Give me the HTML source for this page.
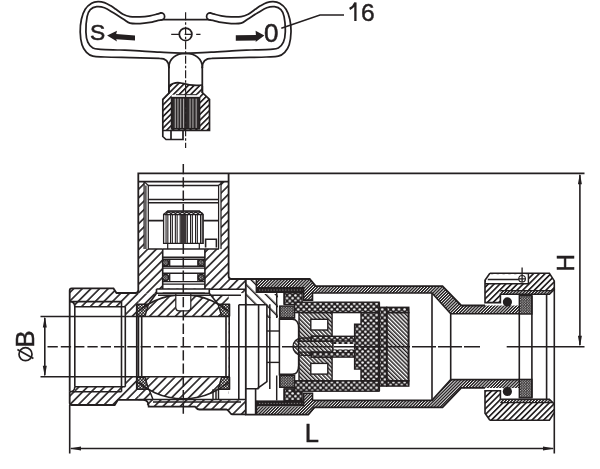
<!DOCTYPE html>
<html><head><meta charset="utf-8"><style>html,body{margin:0;padding:0;background:#fff;}svg{display:block;will-change:transform;}</style></head>
<body><svg width="600" height="469" viewBox="0 0 600 469">
<rect width="600" height="469" fill="#fff"/>

<defs>
<pattern id="hA" patternUnits="userSpaceOnUse" width="6.1" height="6" patternTransform="rotate(45)">
 <rect x="-0.8" y="0" width="1.6" height="6" fill="#231f20"/><rect x="5.3" y="0" width="1.6" height="6" fill="#231f20"/></pattern>
<pattern id="hS" patternUnits="userSpaceOnUse" width="4.1" height="6" patternTransform="rotate(45)">
 <rect x="0" y="0" width="1.7" height="6" fill="#231f20"/></pattern>
<pattern id="hF" patternUnits="userSpaceOnUse" width="2.2" height="6" patternTransform="rotate(45)">
 <rect x="0" y="0" width="1.4" height="6" fill="#231f20"/></pattern>
<pattern id="hB" patternUnits="userSpaceOnUse" width="2.9" height="6" patternTransform="rotate(-45)">
 <rect x="0" y="0" width="1.5" height="6" fill="#231f20"/></pattern>
<pattern id="hW" patternUnits="userSpaceOnUse" width="7" height="6" patternTransform="rotate(-45)">
 <rect x="0" y="0" width="1.5" height="6" fill="#231f20"/></pattern>
<pattern id="dC" patternUnits="userSpaceOnUse" width="5.6" height="5.6">
 <rect width="5.6" height="5.6" fill="#231f20"/>
 <circle cx="1.4" cy="1.4" r="1.25" fill="#fff"/><circle cx="4.2" cy="4.2" r="1.25" fill="#fff"/></pattern>
<pattern id="dF" patternUnits="userSpaceOnUse" width="2.6" height="2.6">
 <rect width="2.6" height="2.6" fill="#231f20"/>
 <circle cx="0.65" cy="0.65" r="0.55" fill="#fff"/><circle cx="1.95" cy="1.95" r="0.55" fill="#fff"/></pattern>
<pattern id="dS" patternUnits="userSpaceOnUse" width="3" height="3">
 <rect width="3" height="3" fill="#231f20"/>
 <circle cx="0.75" cy="0.75" r="0.72" fill="#fff"/><circle cx="2.25" cy="2.25" r="0.72" fill="#fff"/></pattern>
</defs>

<g fill="none" stroke="#231f20" stroke-width="1.75" stroke-linecap="round">
<path d="M161.00 12.80 C160.28 13.03 158.53 13.70 156.70 14.20 C154.87 14.70 152.78 15.37 150.00 15.80 C147.22 16.23 143.33 16.67 140.00 16.80 C136.67 16.93 132.83 17.03 130.00 16.60 C127.17 16.17 125.33 15.42 123.00 14.20 C120.67 12.98 118.03 10.70 116.00 9.30 C113.97 7.90 112.73 6.92 110.80 5.80 C108.87 4.68 106.53 3.30 104.40 2.60 C102.27 1.90 100.13 1.48 98.00 1.60 C95.87 1.72 93.73 2.03 91.60 3.30 C89.47 4.57 86.90 6.55 85.20 9.20 C83.50 11.85 82.23 15.40 81.40 19.20 C80.57 23.00 80.10 27.73 80.20 32.00 C80.30 36.27 80.95 41.40 82.00 44.80 C83.05 48.20 84.68 50.50 86.50 52.40 C88.32 54.30 89.82 55.43 92.90 56.20 C95.98 56.97 98.82 56.77 105.00 57.00 C111.18 57.23 122.50 57.42 130.00 57.60 C137.50 57.78 145.08 57.97 150.00 58.10 C154.92 58.23 157.92 58.35 159.50 58.40 Q168.9 58.4 168.9 67.4"/>
<path d="M210.20 12.80 C210.92 13.03 212.67 13.70 214.50 14.20 C216.33 14.70 218.42 15.37 221.20 15.80 C223.98 16.23 227.87 16.67 231.20 16.80 C234.53 16.93 238.37 17.03 241.20 16.60 C244.03 16.17 245.87 15.42 248.20 14.20 C250.53 12.98 253.17 10.70 255.20 9.30 C257.23 7.90 258.47 6.92 260.40 5.80 C262.33 4.68 264.67 3.30 266.80 2.60 C268.93 1.90 271.07 1.48 273.20 1.60 C275.33 1.72 277.47 2.03 279.60 3.30 C281.73 4.57 284.30 6.55 286.00 9.20 C287.70 11.85 288.97 15.40 289.80 19.20 C290.63 23.00 291.10 27.73 291.00 32.00 C290.90 36.27 290.25 41.40 289.20 44.80 C288.15 48.20 286.52 50.50 284.70 52.40 C282.88 54.30 281.38 55.43 278.30 56.20 C275.22 56.97 272.38 56.77 266.20 57.00 C260.02 57.23 248.70 57.42 241.20 57.60 C233.70 57.78 226.12 57.97 221.20 58.10 C216.28 58.23 213.28 58.35 211.70 58.40 Q202.3 58.4 202.3 67.4"/>
<path d="M161.00 20.00 C160.28 20.13 158.53 20.40 156.70 20.80 C154.87 21.20 152.78 21.93 150.00 22.40 C147.22 22.87 143.33 23.47 140.00 23.60 C136.67 23.73 132.73 23.93 130.00 23.20 C127.27 22.47 126.37 20.93 123.60 19.20 C120.83 17.47 116.60 14.70 113.40 12.80 C110.20 10.90 107.18 8.82 104.40 7.80 C101.62 6.78 99.05 6.40 96.70 6.70 C94.35 7.00 91.90 7.95 90.30 9.60 C88.70 11.25 87.83 12.87 87.10 16.60 C86.37 20.33 85.78 27.73 85.90 32.00 C86.02 36.27 86.63 39.53 87.80 42.20 C88.97 44.87 90.77 46.82 92.90 48.00 C95.03 49.18 96.08 48.97 100.60 49.30 C105.12 49.63 114.27 49.78 120.00 50.00 C125.73 50.22 128.33 50.23 135.00 50.60 C141.67 50.97 151.57 51.75 160.00 52.20 C168.43 52.65 181.33 53.12 185.60 53.30"/>
<path d="M210.20 20.00 C210.92 20.13 212.67 20.40 214.50 20.80 C216.33 21.20 218.42 21.93 221.20 22.40 C223.98 22.87 227.87 23.47 231.20 23.60 C234.53 23.73 238.47 23.93 241.20 23.20 C243.93 22.47 244.83 20.93 247.60 19.20 C250.37 17.47 254.60 14.70 257.80 12.80 C261.00 10.90 264.02 8.82 266.80 7.80 C269.58 6.78 272.15 6.40 274.50 6.70 C276.85 7.00 279.30 7.95 280.90 9.60 C282.50 11.25 283.37 12.87 284.10 16.60 C284.83 20.33 285.42 27.73 285.30 32.00 C285.18 36.27 284.57 39.53 283.40 42.20 C282.23 44.87 280.43 46.82 278.30 48.00 C276.17 49.18 275.12 48.97 270.60 49.30 C266.08 49.63 256.93 49.78 251.20 50.00 C245.47 50.22 242.87 50.23 236.20 50.60 C229.53 50.97 219.63 51.75 211.20 52.20 C202.77 52.65 189.87 53.12 185.60 53.30"/>
<path d="M161 12.8 A3.6 3.6 0 0 1 161 20"/>
<path d="M210.2 12.8 A3.6 3.6 0 0 0 210.2 20"/>
<path d="M162.5 19.6 H208.7"/>
<path d="M168.9 67.4 C168.9 58.5 176 53.4 185.6 53.4 C195.2 53.4 202.3 58.5 202.3 67.4"/>
<path d="M168.9 67.4 V93 M202.3 67.4 V92.5"/>
<circle cx="185.6" cy="34.3" r="6.3"/>
</g>
<path d="M107.1 35.4 L117 30.8 L116.2 33.9 L135 35.4 L135 40.6 L116.2 39.3 L117 41.6 Z" fill="#231f20"/>
<path d="M264.4 35.6 L255.6 30.8 L255.9 35.0 L235.8 35.2 L235.8 40.8 L255.9 40.4 L255.6 41.9 Z" fill="#231f20"/>
<path d="M281.3 28.3 L320 15 H344" fill="none" stroke="#231f20" stroke-width="1.5"/>
<text x="89.9" y="40.2" font-family="Liberation Sans" font-size="22.8" stroke="#231f20" stroke-width="0.55" fill="#231f20">S</text>
<text x="263.9" y="41.9" font-family="Liberation Sans" font-size="26" stroke="#231f20" stroke-width="0.55" fill="#231f20">0</text>
<text x="360.9" y="20.7" font-family="Liberation Sans" font-size="24.6" stroke="#231f20" stroke-width="0.45" fill="#231f20">6</text>
<path d="M349.6 8.9 Q353.6 7.2 355.4 2.6 V21" fill="none" stroke="#231f20" stroke-width="2.3"/>
<path d="M168.9 86 C173 82.6 178 82.2 182 83.2 C187 84.6 192 86.2 202.3 85 V92.5 L209.5 99.4 V130.5 H162.8 V99.4 L168.9 93 Z M171.6 97.7 V128.8 H199.5 V97.7 Z" fill="url(#hS)" fill-rule="evenodd"/>
<rect x="171.6" y="94.7" width="28" height="34.1" fill="#fff"/>
<rect x="171.6" y="97.7" width="27.9" height="31.1" fill="#2e2a2b"/>
<rect x="174.8" y="98" width="0.9" height="30.5" fill="#c4c0c0"/>
<rect x="177.5" y="98" width="0.9" height="30.5" fill="#c4c0c0"/>
<rect x="180.3" y="98" width="0.9" height="30.5" fill="#c4c0c0"/>
<rect x="183.2" y="98" width="0.9" height="30.5" fill="#c4c0c0"/>
<rect x="189.6" y="98" width="0.9" height="30.5" fill="#c4c0c0"/>
<rect x="192.5" y="98" width="0.9" height="30.5" fill="#c4c0c0"/>
<rect x="195.7" y="98" width="0.9" height="30.5" fill="#c4c0c0"/>
<path d="M176 94.7 H197 M171.6 97.7 H199.5" stroke="#231f20" stroke-width="1" fill="none"/>
<g fill="none" stroke="#231f20" stroke-width="1.7">
<path d="M168.9 86 V93 L162.8 99.4 V130.5 M162.8 130.5 V136.5 L166 139.5 H183 V130.5 M171 130.5 V139.5 M202.3 86 V92.5 L209.5 99.4 V130.5 H162.8"/>
<path d="M168.9 86 C173 82.6 178 82.2 182 83.2 C187 84.6 192 86.2 202.3 85"/>
<rect x="171.6" y="97.7" width="27.9" height="31.1"/>
</g>
<g fill="none" stroke="#231f20" stroke-width="1.2">
<path d="M185.6 12.3 V148" stroke-dasharray="8 2 2.5 2"/>
<path d="M171.2 34.3 H179 M184.6 34.3 H192 M196.2 34.3 H200.5"/>
</g>
<polygon points="69.70,288.40 113.50,288.40 116.50,293.00 136.50,293.00 138.30,290.00 138.30,173.30 228.60,173.30 228.60,275.90 231.70,279.00 245.80,279.00 245.80,414.40 232.50,414.40 229.00,411.50 226.50,409.50 199.50,409.50 196.00,407.50 195.00,406.70 148.70,406.70 143.30,399.80 118.00,399.80 114.70,405.00 69.70,405.00" fill="url(#hA)" />
<rect x="144.10" y="181.60" width="76.90" height="67.40" fill="#fff" />
<rect x="138.30" y="173.30" width="90.30" height="8.30" fill="#fff" />
<rect x="162.70" y="249.00" width="42.20" height="39.60" fill="#fff" />
<rect x="156.50" y="289.00" width="52.80" height="4.20" fill="#fff" />
<rect x="74.80" y="306.70" width="50.50" height="80.00" fill="#fff" />
<rect x="69.70" y="301.60" width="5.10" height="90.20" fill="#fff" />
<rect x="125.30" y="316.50" width="13.00" height="60.30" fill="#fff" />
<path d="M138.3 293.1 H228.6 V399.5 H138.3 Z" fill="#fff"/>
<rect x="228.60" y="293.10" width="17.20" height="107.20" fill="#fff" />
<clipPath id="ballclip"><rect x="138.3" y="290" width="90.3" height="120"/></clipPath>
<clipPath id="bc"><rect x="138.5" y="295.2" width="89.6" height="106"/></clipPath>
<g clip-path="url(#bc)"><path d="M132.9 316.1 A69.8 69.8 0 0 1 233.7 316.1 Z" fill="url(#hA)"/>
<path d="M132.9 377.3 A69.8 69.8 0 0 0 233.7 377.3 Z" fill="url(#hA)"/></g>
<polygon points="138.30,293.20 156.50,293.20 148.50,304.20 138.30,304.20" fill="url(#hA)" />
<polygon points="138.30,389.20 149.00,389.20 153.00,399.50 138.30,399.50" fill="url(#hA)" />
<polygon points="209.30,293.20 228.60,293.20 228.60,304.20 218.10,304.20" fill="url(#hA)" />
<rect x="209.30" y="289.30" width="31.70" height="5.90" fill="#fff" />
<polygon points="137.00,304.20 148.50,304.20 145.00,316.10 137.00,316.10" fill="url(#dS)" stroke="#231f20" stroke-width="1.4" stroke-linejoin="round"/>
<polygon points="137.00,389.20 148.50,389.20 145.00,377.30 137.00,377.30" fill="url(#dS)" stroke="#231f20" stroke-width="1.4" stroke-linejoin="round"/>
<polygon points="229.60,304.20 218.10,304.20 221.60,316.10 229.60,316.10" fill="url(#dS)" stroke="#231f20" stroke-width="1.4" stroke-linejoin="round"/>
<polygon points="229.60,389.20 218.10,389.20 221.60,377.30 229.60,377.30" fill="url(#dS)" stroke="#231f20" stroke-width="1.4" stroke-linejoin="round"/>
<polygon points="245.80,279.00 256.40,279.00 256.40,294.00 278.00,294.00 278.00,318.00 266.90,318.00 266.90,304.70 245.80,304.70" fill="url(#hW)" />
<polygon points="256.40,279.00 309.70,279.00 315.70,286.20 442.50,286.20 461.20,305.50 519.30,305.50 519.30,313.80 450.70,313.80 432.00,293.00 312.50,293.00 312.50,300.10 303.60,300.10 303.60,287.00 256.40,287.00" fill="url(#hF)" />
<polygon points="256.40,414.40 309.70,414.40 315.70,407.20 442.50,407.20 461.20,387.90 519.30,387.90 519.30,379.60 450.70,379.60 432.00,400.40 312.50,400.40 312.50,393.30 303.60,393.30 303.60,406.40 256.40,406.40" fill="url(#hF)" />
<rect x="256.40" y="287.00" width="47.20" height="6.00" fill="#231f20" />
<rect x="256.40" y="400.40" width="47.20" height="6.00" fill="#231f20" />
<rect x="259.00" y="289.60" width="1.30" height="0.90" fill="#8a8586" />
<rect x="259.00" y="402.90" width="1.30" height="0.90" fill="#8a8586" />
<rect x="261.90" y="289.60" width="1.30" height="0.90" fill="#8a8586" />
<rect x="261.90" y="402.90" width="1.30" height="0.90" fill="#8a8586" />
<rect x="264.80" y="289.60" width="1.30" height="0.90" fill="#8a8586" />
<rect x="264.80" y="402.90" width="1.30" height="0.90" fill="#8a8586" />
<rect x="267.70" y="289.60" width="1.30" height="0.90" fill="#8a8586" />
<rect x="267.70" y="402.90" width="1.30" height="0.90" fill="#8a8586" />
<rect x="270.60" y="289.60" width="1.30" height="0.90" fill="#8a8586" />
<rect x="270.60" y="402.90" width="1.30" height="0.90" fill="#8a8586" />
<rect x="273.50" y="289.60" width="1.30" height="0.90" fill="#8a8586" />
<rect x="273.50" y="402.90" width="1.30" height="0.90" fill="#8a8586" />
<rect x="276.40" y="289.60" width="1.30" height="0.90" fill="#8a8586" />
<rect x="276.40" y="402.90" width="1.30" height="0.90" fill="#8a8586" />
<rect x="279.30" y="289.60" width="1.30" height="0.90" fill="#8a8586" />
<rect x="279.30" y="402.90" width="1.30" height="0.90" fill="#8a8586" />
<rect x="282.20" y="289.60" width="1.30" height="0.90" fill="#8a8586" />
<rect x="282.20" y="402.90" width="1.30" height="0.90" fill="#8a8586" />
<rect x="285.10" y="289.60" width="1.30" height="0.90" fill="#8a8586" />
<rect x="285.10" y="402.90" width="1.30" height="0.90" fill="#8a8586" />
<rect x="288.00" y="289.60" width="1.30" height="0.90" fill="#8a8586" />
<rect x="288.00" y="402.90" width="1.30" height="0.90" fill="#8a8586" />
<rect x="290.90" y="289.60" width="1.30" height="0.90" fill="#8a8586" />
<rect x="290.90" y="402.90" width="1.30" height="0.90" fill="#8a8586" />
<rect x="293.80" y="289.60" width="1.30" height="0.90" fill="#8a8586" />
<rect x="293.80" y="402.90" width="1.30" height="0.90" fill="#8a8586" />
<rect x="296.70" y="289.60" width="1.30" height="0.90" fill="#8a8586" />
<rect x="296.70" y="402.90" width="1.30" height="0.90" fill="#8a8586" />
<rect x="299.60" y="289.60" width="1.30" height="0.90" fill="#8a8586" />
<rect x="299.60" y="402.90" width="1.30" height="0.90" fill="#8a8586" />
<rect x="302.50" y="289.60" width="1.30" height="0.90" fill="#8a8586" />
<rect x="302.50" y="402.90" width="1.30" height="0.90" fill="#8a8586" />
<polygon points="489.90,273.20 549.40,273.20 554.30,280.90 554.30,289.30 549.40,294.20 500.40,294.20 500.40,302.60 485.00,302.60 485.00,280.20" fill="url(#hS)" />
<polygon points="489.90,420.20 549.40,420.20 554.30,412.50 554.30,404.10 549.40,399.20 500.40,399.20 500.40,390.80 485.00,390.80 485.00,413.20" fill="url(#hS)" />
<rect x="486.00" y="274.20" width="42.40" height="9.50" fill="#fff" />
<polygon points="500.40,290.70 552.00,290.70 549.40,294.20 500.40,294.20" fill="#fff" />
<polygon points="500.40,402.70 552.00,402.70 549.40,399.20 500.40,399.20" fill="#fff" />
<polygon points="500.40,290.70 552.00,290.70 549.40,294.20 500.40,294.20" fill="url(#hF)" />
<polygon points="500.40,402.70 552.00,402.70 549.40,399.20 500.40,399.20" fill="url(#hF)" />
<rect x="519.30" y="295.60" width="12.60" height="18.40" fill="url(#dF)" stroke="#231f20" stroke-width="1.4"/>
<rect x="519.30" y="379.40" width="12.60" height="18.40" fill="url(#dF)" stroke="#231f20" stroke-width="1.4"/>
<circle cx="507.4" cy="301.9" r="4.6" fill="#231f20"/>
<circle cx="507.4" cy="391.50" r="4.6" fill="#231f20"/>
<rect x="284.20" y="292.70" width="17.90" height="11.90" fill="url(#dC)" stroke="#231f20" stroke-width="1.4"/>
<rect x="284.20" y="388.80" width="17.90" height="11.90" fill="url(#dC)" stroke="#231f20" stroke-width="1.4"/>
<rect x="279.70" y="306.10" width="14.90" height="11.90" fill="url(#dF)" stroke="#231f20" stroke-width="1.4"/>
<rect x="279.70" y="375.40" width="14.90" height="11.90" fill="url(#dF)" stroke="#231f20" stroke-width="1.4"/>
<rect x="294.60" y="302.20" width="84.50" height="10.40" fill="url(#dC)" stroke="#231f20" stroke-width="1.4"/>
<rect x="294.60" y="380.80" width="84.50" height="10.40" fill="url(#dC)" stroke="#231f20" stroke-width="1.4"/>
<polygon points="361.00,312.60 379.10,312.60 379.10,380.80 361.00,380.80 361.00,369.10 354.60,369.10 354.60,324.30 361.00,324.30" fill="url(#dC)" stroke="#231f20" stroke-width="1.4"/>
<rect x="379.10" y="307.30" width="7.60" height="78.80" fill="url(#dC)" stroke="#231f20" stroke-width="1.4"/>
<rect x="386.70" y="307.30" width="22.10" height="5.30" fill="url(#dC)" stroke="#231f20" stroke-width="1.4"/>
<rect x="386.70" y="380.80" width="22.10" height="5.30" fill="url(#dC)" stroke="#231f20" stroke-width="1.4"/>
<rect x="386.70" y="312.60" width="22.10" height="68.20" fill="url(#hB)" stroke="#231f20" stroke-width="1.4"/>
<polygon points="299.00,312.60 332.10,312.60 332.10,336.30 311.30,336.30 311.30,341.30 299.00,341.30" fill="url(#hB)" stroke="#231f20" stroke-width="1.4"/>
<polygon points="299.00,380.80 332.10,380.80 332.10,357.10 311.30,357.10 311.30,352.10 299.00,352.10" fill="url(#hB)" stroke="#231f20" stroke-width="1.4"/>
<rect x="310.80" y="319.30" width="17.00" height="10.70" fill="#fff" stroke="#231f20" stroke-width="1.4"/>
<rect x="310.80" y="363.40" width="17.00" height="10.70" fill="#fff" stroke="#231f20" stroke-width="1.4"/>
<rect x="311.30" y="336.30" width="43.30" height="5.00" fill="url(#dC)" stroke="#231f20" stroke-width="1.4"/>
<rect x="311.30" y="352.10" width="43.30" height="5.00" fill="url(#dC)" stroke="#231f20" stroke-width="1.4"/>
<path d="M301.7 338 H311.3 V341.3 H333 V352.10 H311.3 V355.40 H301.7 A8.7 8.7 0 0 1 301.7 338 Z" fill="url(#hB)" stroke="#231f20" stroke-width="1.4"/>
<rect x="333.00" y="341.30" width="21.60" height="10.80" fill="#fff" stroke="#231f20" stroke-width="1.4"/>
<rect x="333.00" y="341.30" width="21.60" height="2.70" fill="url(#dC)" />
<rect x="333.00" y="349.40" width="21.60" height="2.70" fill="url(#dC)" />
<path d="M163.6 243.4 V214.6 L167.7 211.2 H199.3 L203.2 214.6 V243.4 Z" fill="#fff"/>
<path d="M175.8 293.1 V307.8 Q175.8 310.8 178.8 310.8 H187.8 Q190.8 310.8 190.8 307.8 V293.1" fill="#fff" stroke="#231f20" stroke-width="1.2"/>
<path d="M44.8 316.5 L42.8 327.5 L46.8 327.5 Z M44.8 376.8 L42.8 365.8 L46.8 365.8 Z" fill="#231f20"/>
<path d="M579.9 173.3 L577.9 184.3 L581.9 184.3 Z M579.9 346.7 L577.9 335.7 L581.9 335.7 Z" fill="#231f20"/>
<path d="M69.7 448.5 L81 446.5 L81 450.5 Z M554.3 448.5 L543 446.5 L543 450.5 Z" fill="#231f20"/>
<text x="304.7" y="441.5" font-family="Liberation Sans" font-size="25.5" fill="#231f20" stroke="#231f20" stroke-width="0.5">L</text>
<text transform="translate(573.6,271.4) rotate(-90)" font-family="Liberation Sans" font-size="24.2" fill="#231f20" stroke="#231f20" stroke-width="0.5">H</text>
<text transform="translate(34.4,347.5) rotate(-90)" font-family="Liberation Sans" font-size="25.6" fill="#231f20" stroke="#231f20" stroke-width="0.5">B</text>
<circle cx="25.5" cy="354.2" r="6.5" fill="none" stroke="#231f20" stroke-width="1.7"/>
<path d="M17.4 349.6 L33.4 358.4" fill="none" stroke="#231f20" stroke-width="1.7"/>
<g fill="none" stroke="#231f20" stroke-linecap="butt"><path d="M69.7 391.8 V290.4 Q69.7 288.4 71.7 288.4 H113.5 L116.5 293 H135.5 Q138.3 293 138.3 290 V173.3 H584.5" stroke-width="1.80" />
<path d="M228.6 173.3 V275.9 Q228.6 279 231.7 279 H309.7 L315.7 286.2 H442.5 L461.2 305.5 H485" stroke-width="1.80" />
<path d="M69.7 391.8 V403 Q69.7 405 71.7 405 H114.7 L118 399.8 H143.3 Q148.7 399.8 148.7 406.7 H195 Q197 409.5 199.5 409.5 H226.5 C229 409.5 229.5 414.4 232.5 414.4 H245.8" stroke-width="1.80" />
<path d="M245.8 279 V414.7 H308.3 L314.2 407.3 H442.5 L461.2 387.9 H485" stroke-width="1.80" />
<path d="M69.7 301.6 H121.5 M74.8 306.7 H125.3 M69.7 301.6 Q74.8 301.6 74.8 306.7 V386.7" stroke-width="1.60" />
<path d="M69.7 391.8 H121.5 M74.8 386.7 H125.3 M69.7 391.8 Q74.8 391.8 74.8 386.7" stroke-width="1.60" />
<path d="M121.5 301.6 V391.8 M125.3 306.7 V386.7" stroke-width="1.60" />
<path d="M138.3 181.6 H228.6" stroke-width="1.80" />
<path d="M144.1 181.6 V249 M145.9 185.5 V249 M148.3 185.5 V249 M144.1 181.6 L148.3 185.5" stroke-width="1.25" />
<path d="M221 181.6 V249 M218.6 185.5 V249 M222.8 181.6 L218.6 185.5" stroke-width="1.25" />
<path d="M147.9 185.5 H219 M147.9 199.5 H219 M147.9 202.7 H219" stroke-width="1.60" />
<path d="M147.9 220.6 H163.6 M203.2 220.6 H219" stroke-width="1.60" />
<path d="M147.9 249 H162.7 M204.9 249 H219" stroke-width="1.60" />
<path d="M205.6 247.6 V239.3 H216.4 V247.6" stroke-width="1.60" />
<path d="M162.7 249 V288.6 M204.9 249 V288.6 M156.5 289 H209.3 V293.2 H156.5 V289 M156.5 293.2 L148.5 304.2 M209.3 293.2 L218.1 304.2 M158 295.2 H209" stroke-width="1.60" />
<path d="M162.7 249.0 H204.9" stroke-width="1.45" />
<path d="M162.7 257.3 H204.9" stroke-width="1.45" />
<path d="M162.7 259.2 H204.9" stroke-width="1.45" />
<path d="M162.7 266.2 H204.9" stroke-width="1.45" />
<path d="M162.7 268.1 H204.9" stroke-width="1.45" />
<path d="M162.7 273.2 H204.9" stroke-width="1.45" />
<path d="M162.7 281.6 H204.9" stroke-width="1.45" />
<path d="M162.7 284.1 H204.9" stroke-width="1.45" />
<path d="M162.7 293.1 H204.9" stroke-width="1.45" />
<path d="M169.7 259.2 V266.2 M197.9 259.2 V266.2 M169.7 273.9 V281.6 M197.9 273.9 V281.6" stroke-width="1.30" />
<circle cx="165.6" cy="262.7" r="3.1" fill="url(#dF)" stroke="#231f20" stroke-width="1.3"/>
<circle cx="165.6" cy="277.6" r="3.1" fill="url(#dF)" stroke="#231f20" stroke-width="1.3"/>
<circle cx="201.2" cy="262.7" r="3.1" fill="url(#dF)" stroke="#231f20" stroke-width="1.3"/>
<circle cx="201.2" cy="277.6" r="3.1" fill="url(#dF)" stroke="#231f20" stroke-width="1.3"/>
<g clip-path="url(#bc)"><path d="M132.9 316.1 A69.8 69.8 0 0 1 233.7 316.1 M132.9 377.3 A69.8 69.8 0 0 0 233.7 377.3" stroke-width="1.6"/></g>
<path d="M40.5 316.5 H229.2 M40.5 376.8 H229.2" stroke-width="1.60" />
<path d="M136.7 304.2 V389 M138.5 315.8 V377.4 M141.7 315.8 V377.4 M226 315.8 V377.4 M229.2 304.2 V389" stroke-width="1.60" />
<path d="M238.8 304.7 V399.5 M258.6 304.7 V388.7 M266.9 304.7 V381.7 L257.2 388.7 M238.8 304.7 H266.9 M245.8 388.7 H258.6 M255.6 388.7 V414.4" stroke-width="1.60" />
<path d="M209.3 289.3 H245.8 M209 295.2 H241 M138.3 399.5 H245.8 M149 389.2 L153 399.5 M153 402 H241 M213 389.2 V399.5 M216 389.2 V399.5 M218.5 389.2 V399.5" stroke-width="1.45" />
<path d="M269.8 304.3 V389.1 M279.4 318 V375.4" stroke-width="1.50" />
<path d="M266.9 331 H279.4" stroke-width="1.40" />
<path d="M 266.90 362.40 H 279.4" stroke-width="1.40" />
<path d="M279.4 319.2 H292.2 Q298.6 319.2 298.6 328 V365.4 Q298.6 374.2 292.2 374.2 H279.4" stroke-width="1.50" />
<path d="M225 346.7 H279.4" stroke-width="1.50" />
<path d="M256.4 279 V293 M303.6 287 V300.1 H312.5 V293 H432 L450.7 313.8 H519.3" stroke-width="1.60" />
<path d="M 256.40 414.40 V 400.40 M 303.60 406.40 V 393.30 H 312.5 V 400.40 H 432 L 450.70 379.60 H 519.3" stroke-width="1.60" />
<path d="M276.7 293 V318 M279.7 306.1 V318 H294.6 M284.2 292.7 V304.6" stroke-width="1.45" />
<path d="M 276.70 400.40 V 375.40 M 279.70 387.30 V 375.40 H 294.6 M 284.20 400.70 V 388.80" stroke-width="1.45" />
<path d="M432 293 V400.4 M450.7 313.8 V379.6" stroke-width="1.60" />
<path d="M408.4 308.4 V385 M386.7 308.4 V385 M379.3 302.4 V391" stroke-width="1.60" />
<path d="M489.9 273.2 H549.4 L554.3 280.9 V289.3 L549.4 294.2 H500.4 V302.6 H485 V280.2 L489.9 273.2" stroke-width="1.60" />
<path d="M 489.90 420.20 H 549.4 L 554.30 412.50 V 404.10 L 549.40 399.20 H 500.4 V 390.80 H 485 V 413.20 L 489.90 420.20" stroke-width="1.60" />
<path d="M485 283.7 H528.4 V273.2 M487.8 279.5 H520" stroke-width="1.45" />
<path d="M500.4 290.7 H552" stroke-width="1.20" />
<path d="M 500.40 402.70 H 552" stroke-width="1.20" />
<path d="M519.3 313.8 V379.6 M531.9 295.6 V397.8 M546.6 294.2 V399.2 M554.3 289.3 V404.1" stroke-width="1.60" />
<circle cx="522.1" cy="278.8" r="3.3" fill="#fff" stroke="#231f20" stroke-width="1.1"/>
<path d="M522.1 267.5 V282 M518.5 278.8 H525.7" stroke-width="1.30" />
<path d="M47.5 346.7 H225" stroke-width="1.50" stroke-dasharray="10.3 3"/>
<path d="M282 346.7 H480" stroke-width="1.50" stroke-dasharray="24 2"/>
<path d="M506.7 346.7 H584.5" stroke-width="1.60" />
<path d="M183.3 164 V414" stroke-width="1.50" stroke-dasharray="10.3 3"/>
<path d="M44.8 318 V375.3" stroke-width="1.60" />
<path d="M579.9 175 V345" stroke-width="1.60" />
<path d="M69.7 405 V453.6 M554.3 412.5 V453.6" stroke-width="1.60" />
<path d="M71 448.5 H553" stroke-width="1.60" /></g>
<path d="M163.6 243.4 V214.6 L167.7 211.2 H199.3 L203.2 214.6 V243.4 Z" fill="#fff" stroke="#231f20" stroke-width="1.3"/>
<rect x="165.5" y="213" width="1.1" height="30.4" fill="#231f20"/>
<rect x="167.3" y="213" width="1.1" height="30.4" fill="#231f20"/>
<rect x="170.0" y="213" width="1.1" height="30.4" fill="#231f20"/>
<rect x="171.8" y="213" width="1.1" height="30.4" fill="#231f20"/>
<rect x="174.8" y="213" width="1.1" height="30.4" fill="#231f20"/>
<rect x="176.6" y="213" width="1.1" height="30.4" fill="#231f20"/>
<rect x="179.6" y="213" width="1.1" height="30.4" fill="#231f20"/>
<rect x="181.2" y="213" width="1.1" height="30.4" fill="#231f20"/>
<rect x="185.0" y="213" width="1.1" height="30.4" fill="#231f20"/>
<rect x="186.8" y="213" width="1.1" height="30.4" fill="#231f20"/>
<rect x="190.0" y="213" width="1.1" height="30.4" fill="#231f20"/>
<rect x="191.8" y="213" width="1.1" height="30.4" fill="#231f20"/>
<rect x="195.0" y="213" width="1.1" height="30.4" fill="#231f20"/>
<rect x="196.8" y="213" width="1.1" height="30.4" fill="#231f20"/>
<rect x="200.0" y="213" width="1.1" height="30.4" fill="#231f20"/>
<rect x="201.6" y="213" width="1.1" height="30.4" fill="#231f20"/>
<rect x="180.6" y="213" width="5.8" height="30.4" fill="#3a3536"/>
<rect x="164.5" y="211.9" width="38" height="2.6" fill="#fff"/>
<path d="M164.3 214.6 H202.5 M166.5 214.6 a2.25 2.25 0 0 1 4.5 0 a2.25 2.25 0 0 1 4.5 0 a2.25 2.25 0 0 1 4.5 0 a2.25 2.25 0 0 1 4.5 0 a2.25 2.25 0 0 1 4.5 0 a2.25 2.25 0 0 1 4.5 0 a2.25 2.25 0 0 1 4.5 0 a2.25 2.25 0 0 1 4.5 0" fill="none" stroke="#231f20" stroke-width="1.1"/>
<path d="M163.6 214.6 L167.7 211.2 H199.3 L203.2 214.6" fill="none" stroke="#231f20" stroke-width="1.3"/>
<path d="M167.7 243.4 V249 M199.3 243.4 V249" stroke="#231f20" stroke-width="1.2" fill="none"/>
</svg></body></html>
